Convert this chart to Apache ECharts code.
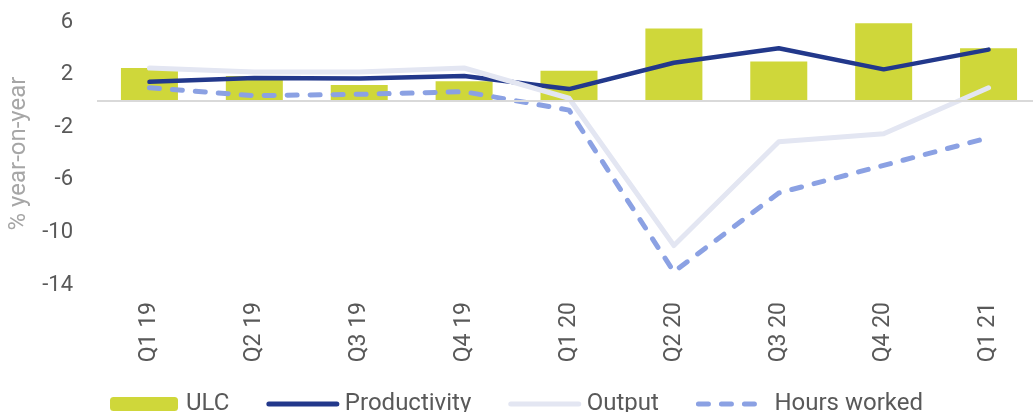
<!DOCTYPE html>
<html>
<head>
  <meta charset="utf-8">
  <title>ULC</title>
  <script src="https://cdn.jsdelivr.net/npm/echarts@6/dist/echarts.min.js"></script>
  <style>
    html, body { margin: 0; padding: 0; background: #fff; }
  </style>
</head>
<body>
<div id="main" style="width: 1033px; height: 412px;"></div>
<script type="text/javascript">
  // quarters on the x axis
  var quarters = ['Q1 19', 'Q2 19', 'Q3 19', 'Q4 19', 'Q1 20', 'Q2 20', 'Q3 20', 'Q4 20', 'Q1 21'];
  // % year-on-year
  var ulc = [2.5, 1.9, 1.2, 1.5, 2.3, 5.5, 3.0, 5.9, 4.0];
  var productivity = [1.45, 1.75, 1.7, 1.9, 0.9, 2.9, 4.0, 2.4, 3.9];
  var output = [2.5, 2.2, 2.2, 2.5, 0.2, -11.0, -3.1, -2.5, 1.0];
  var hoursWorked = [1.0, 0.4, 0.5, 0.7, -0.7, -13.0, -7.0, -4.9, -2.8];

  var font = 'Roboto';
  var noSymbol = { opacity: 0 };
  var myChart = echarts.init(document.getElementById('main'));
  var option = {
    animation: false,
    textStyle: { fontFamily: font },
    legend: {
      left: 'center',
      top: 387,
      itemWidth: 68,
      itemHeight: 14,
      itemGap: 37,
      textStyle: { fontSize: 24, color: '#595959', fontFamily: font, padding: [0, 0, 0, 3] },
      data: [
        { name: 'ULC' },
        { name: 'Productivity', itemStyle: noSymbol, lineStyle: { width: 5, cap: 'round' } },
        { name: 'Output', itemStyle: noSymbol, lineStyle: { width: 5, cap: 'round' } },
        { name: 'Hours worked', itemStyle: noSymbol, lineStyle: { width: 5, cap: 'round', type: [10, 13] } }
      ]
    },
    grid: { left: 97, right: -8, top: 22, bottom: 127, containLabel: false, outerBoundsMode: 'none' },
    xAxis: {
      type: 'category',
      data: quarters,
      axisLine: { show: false, onZero: false },
      axisTick: { show: false },
      axisLabel: { rotate: 90, margin: 17, fontSize: 23, color: '#595959', fontFamily: font }
    },
    yAxis: {
      type: 'value',
      min: -14,
      max: 6,
      interval: 4,
      name: '% year-on-year',
      nameLocation: 'middle',
      nameGap: 66,
      nameTextStyle: { fontSize: 24, color: '#a6a6a6', fontFamily: font },
      splitLine: { show: false },
      axisLine: { show: false },
      axisTick: { show: false },
      axisLabel: { margin: 24, fontSize: 22, color: '#595959', fontFamily: font }
    },
    series: [
      {
        name: 'ULC',
        type: 'bar',
        data: ulc,
        barWidth: 57,
        itemStyle: { color: '#cfd73a' },
        markLine: {
          silent: true,
          symbol: 'none',
          label: { show: false },
          lineStyle: { color: '#d9d9d9', width: 2, type: 'solid' },
          data: [{ yAxis: 0 }]
        }
      },
      {
        name: 'Productivity',
        type: 'line',
        data: productivity,
        symbol: 'none',
        lineStyle: { color: '#22388b', width: 4.5, cap: 'round', join: 'round' },
        itemStyle: { color: '#22388b' }
      },
      {
        name: 'Output',
        type: 'line',
        data: output,
        symbol: 'none',
        lineStyle: { color: '#e3e6f2', width: 5, cap: 'round', join: 'round' },
        itemStyle: { color: '#e3e6f2' }
      },
      {
        name: 'Hours worked',
        type: 'line',
        data: hoursWorked,
        symbol: 'none',
        lineStyle: { color: '#8ba1e3', width: 5, type: [10, 13], cap: 'round', join: 'round' },
        itemStyle: { color: '#8ba1e3' }
      }
    ]
  };
  myChart.setOption(option);
</script>
</body>
</html>
